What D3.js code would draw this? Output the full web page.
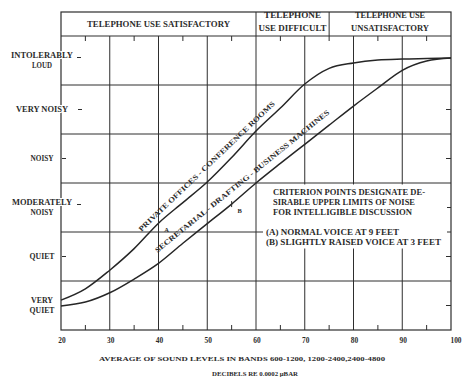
<!DOCTYPE html>
<html>
<head>
<meta charset="utf-8">
<script src="https://cdn.jsdelivr.net/npm/d3@7"></script>
<style>
  html, body { margin: 0; padding: 0; background: #fff; }
  svg { display: block; }
  text { font-family: "Liberation Serif", "DejaVu Serif", serif; fill: #2b2b2b; font-weight: bold; }
</style>
</head>
<body>
<script>
// Sound level (dB) sampled every 5 dB
const levels = [20, 25, 30, 35, 40, 45, 50, 55, 60, 65, 70, 75, 80, 85, 90, 95, 100];
// Subjective rating on a 0–6 scale (each row of the grid is one step)
const privateOffices = [0.61, 0.84, 1.22, 1.66, 2.18, 2.6, 3.02, 3.52, 4.06, 4.53, 5.02, 5.34, 5.45, 5.51, 5.53, 5.54, 5.55];
const secretarial   = [0.49, 0.57, 0.76, 1.04, 1.36, 1.77, 2.17, 2.57, 3.0, 3.4, 3.79, 4.18, 4.57, 4.94, 5.3, 5.49, 5.55];

const xTicks = [20, 30, 40, 50, 60, 70, 80, 90, 100];
const ratingLabels = [
  ["INTOLERABLY", "LOUD"],
  ["VERY NOISY"],
  ["NOISY"],
  ["MODERATELY", "NOISY"],
  ["QUIET"],
  ["VERY", "QUIET"]
];
const ratingValues = [5.5, 4.5, 3.5, 2.5, 1.5, 0.5];
const headerBands = [
  { from: 20, to: 60, lines: ["TELEPHONE USE SATISFACTORY"] },
  { from: 60, to: 75, lines: ["TELEPHONE", "USE DIFFICULT"] },
  { from: 75, to: 100, lines: ["TELEPHONE USE", "UNSATISFACTORY"] }
];
const criterionPoints = [
  { label: "A", x: 40, series: "private" },
  { label: "B", x: 55, series: "secretarial" }
];
const noteLines = [
  "CRITERION POINTS DESIGNATE DE-",
  "SIRABLE UPPER LIMITS OF NOISE",
  "FOR INTELLIGIBLE DISCUSSION"
];
const legendLines = [
  "(A) NORMAL VOICE AT 9 FEET",
  "(B) SLIGHTLY RAISED VOICE AT 3 FEET"
];
const privateLabel = "PRIVATE OFFICES - CONFERENCE ROOMS";
const secretarialLabel = "SECRETARIAL - DRAFTING - BUSINESS MACHINES";
const xTitle = "AVERAGE OF SOUND LEVELS IN BANDS 600-1200, 1200-2400,2400-4800";
const xUnits = "DECIBELS RE 0.0002 \u03BCBAR";

// set widths of the typewritten strings (px)
const textWidths = new Map([
  ["TELEPHONE USE SATISFACTORY", 143], ["TELEPHONE", 57], ["USE DIFFICULT", 68],
  ["TELEPHONE USE", 70], ["UNSATISFACTORY", 78],
  ["INTOLERABLY", 62], ["LOUD", 20], ["VERY NOISY", 52], ["NOISY", 23],
  ["MODERATELY", 60], ["QUIET", 25], ["VERY", 22],
  [noteLines[0], 152], [noteLines[1], 142], [noteLines[2], 139],
  [legendLines[0], 133], [legendLines[1], 175],
  [privateLabel, 185], [secretarialLabel, 222],
  [xTitle, 286], [xUnits, 86]
]);
function fit(sel) {
  const t = sel.text();
  if (textWidths.has(t)) sel.attr("textLength", textWidths.get(t)).attr("lengthAdjust", "spacingAndGlyphs");
  return sel;
}

const W = 462, H = 378;
const mLeft = 61, mRight = 451, mTop = 36, mBottom = 330, headerTop = 12;
const ink = "#2e2e2e";

const svg = d3.select("body").append("svg").attr("width", W).attr("height", H);
svg.append("rect").attr("width", W).attr("height", H).attr("fill", "#fff");

const x = d3.scaleLinear().domain([20, 100]).range([mLeft, mRight]);
const y = d3.scaleLinear().domain([0, 6]).range([mBottom, mTop]);

const g = svg.append("g");

// grid
g.selectAll("line.vg").data(d3.range(30, 100, 10)).join("line")
  .attr("x1", d => x(d)).attr("x2", d => x(d))
  .attr("y1", d => d === 60 ? headerTop : mTop).attr("y2", mBottom)
  .attr("stroke", ink).attr("stroke-width", 1);
g.selectAll("line.hg").data(d3.range(1, 6)).join("line")
  .attr("x1", mLeft).attr("x2", mRight)
  .attr("y1", d => y(d)).attr("y2", d => y(d))
  .attr("stroke", ink).attr("stroke-width", 1);

// minor ticks at the 5 dB marks, top and bottom
const minor = d3.range(25, 100, 10);
g.selectAll("line.tt").data(minor).join("line")
  .attr("x1", d => x(d)).attr("x2", d => x(d))
  .attr("y1", mTop).attr("y2", mTop + 5)
  .attr("stroke", ink).attr("stroke-width", 1);
g.selectAll("line.bt").data(minor).join("line")
  .attr("x1", d => x(d)).attr("x2", d => x(d))
  .attr("y1", mBottom).attr("y2", mBottom - 5)
  .attr("stroke", ink).attr("stroke-width", 1);

// right-edge rating ticks
g.selectAll("line.rt").data(ratingValues.slice(1)).join("line")
  .attr("x1", mRight - 5).attr("x2", mRight)
  .attr("y1", d => y(d)).attr("y2", d => y(d))
  .attr("stroke", ink).attr("stroke-width", 1);

// white panel for the note
g.append("rect").attr("x", 263).attr("y", y(3) + 1.5)
  .attr("width", mRight - 4 - 263).attr("height", 64).attr("fill", "#fff");

// frame and header
g.append("rect").attr("x", mLeft).attr("y", headerTop)
  .attr("width", mRight - mLeft).attr("height", mBottom - headerTop)
  .attr("fill", "none").attr("stroke", ink).attr("stroke-width", 1.2);
g.append("line").attr("x1", mLeft).attr("x2", mRight).attr("y1", mTop).attr("y2", mTop)
  .attr("stroke", ink).attr("stroke-width", 1.2);
g.append("line").attr("x1", x(75)).attr("x2", x(75)).attr("y1", headerTop).attr("y2", mTop)
  .attr("stroke", ink).attr("stroke-width", 1);

headerBands.forEach(b => {
  const cx = (x(b.from) + x(b.to)) / 2;
  const n = b.lines.length;
  b.lines.forEach((t, i) => {
    fit(svg.append("text").attr("x", cx)
      .attr("y", n === 1 ? 27 : 18 + i * 12.5)
      .attr("text-anchor", "middle").attr("font-size", 7.8)
      .text(t));
  });
});

// curves
const line = d3.line().x((d, i) => x(levels[i])).y(d => y(d)).curve(d3.curveMonotoneX);
[privateOffices, secretarial].forEach(s => {
  g.append("path").datum(s).attr("d", line)
    .attr("fill", "none").attr("stroke", "#262626").attr("stroke-width", 1.5);
});

// value on a series at level v
function valueAt(series, v) {
  return d3.scaleLinear().domain(levels).range(series)(v);
}

// curve labels, set parallel to the curve
function curveLabel(series, v0, v1, vMid, offset, text, size) {
  const p0 = [x(v0), y(valueAt(series, v0))];
  const p1 = [x(v1), y(valueAt(series, v1))];
  const ang = Math.atan2(p1[1] - p0[1], p1[0] - p0[0]);
  const cx = x(vMid), cy = y(valueAt(series, vMid));
  const nx = Math.sin(ang), ny = -Math.cos(ang);
  fit(svg.append("text")
    .attr("transform", `translate(${cx + nx * offset},${cy + ny * offset}) rotate(${ang * 180 / Math.PI})`)
    .attr("text-anchor", "middle").attr("font-size", size)
    .text(text));
}
curveLabel(privateOffices, 38, 64, 51.5, 9, privateLabel, 7.4);
curveLabel(secretarial, 42, 74, 58.5, 8, secretarialLabel, 7.4);

// criterion points
criterionPoints.forEach(p => {
  const s = p.series === "private" ? privateOffices : secretarial;
  const px = x(p.x), py = y(valueAt(s, p.x));
  g.append("line").attr("x1", px).attr("x2", px).attr("y1", py - 3).attr("y2", py + 3)
    .attr("stroke", ink).attr("stroke-width", 1);
  svg.append("text").attr("x", px + 8).attr("y", py + 9)
    .attr("text-anchor", "middle").attr("font-size", 6.5).text(p.label);
});

// note text
noteLines.forEach((t, i) => {
  fit(svg.append("text").attr("x", 273).attr("y", 195 + i * 10).attr("font-size", 7.2).text(t));
});
legendLines.forEach((t, i) => {
  fit(svg.append("text").attr("x", 266).attr("y", 235 + i * 9.5).attr("font-size", 7.2).text(t));
});

// rating labels on the left
const tickOff = [15, 16, 0, 15, 0, null];
ratingLabels.forEach((lines, i) => {
  const cy = y(ratingValues[i]);
  const n = lines.length;
  lines.forEach((t, j) => {
    fit(svg.append("text").attr("x", 42)
      .attr("y", cy + 2.5 + (j - (n - 1) / 2) * 9.5)
      .attr("text-anchor", "middle").attr("font-size", 7.4)
      .attr("stroke", "#fff").attr("stroke-width", 2).attr("paint-order", "stroke")
      .text(t));
  });
  if (tickOff[i] !== null) {
    const tx = mLeft + tickOff[i];
    g.append("line").attr("x1", tx + 1).attr("x2", tx + 5)
      .attr("y1", cy + (n > 1 ? -3 : 0)).attr("y2", cy + (n > 1 ? -3 : 0))
      .attr("stroke", ink).attr("stroke-width", 1);
  }
});

// x tick labels
svg.selectAll("text.xt").data(xTicks).join("text")
  .attr("x", d => x(d) + (d === 100 ? 5 : 1)).attr("y", 342.5)
  .attr("text-anchor", "middle").attr("font-size", 7.4)
  .text(d => d);

fit(svg.append("text").attr("x", 242).attr("y", 360.5).attr("text-anchor", "middle")
  .attr("font-size", 6.6).text(xTitle));
fit(svg.append("text").attr("x", 255).attr("y", 376).attr("text-anchor", "middle")
  .attr("font-size", 6.2).text(xUnits));
</script>
</body>
</html>
